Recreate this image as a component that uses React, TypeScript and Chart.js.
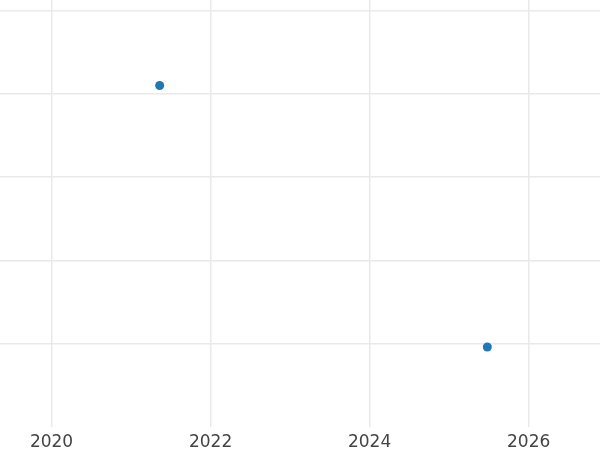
import React, { useEffect, useRef } from "react";
import { Chart, registerables } from "chart.js";

Chart.register(...registerables);

const xValues = [2021.36, 2025.48];
const yValues = [3.1, -0.04];
const xTicks = [2020, 2022, 2024, 2026];
const yTicks = [0, 1, 2, 3, 4];

export default function App() {
  const ref = useRef<HTMLCanvasElement | null>(null);
  useEffect(() => {
    if (!ref.current) return;
    const chart = new Chart(ref.current, {
      type: "scatter",
      data: {
        datasets: [
          {
            data: xValues.map((x, i) => ({ x, y: yValues[i] })),
            backgroundColor: "#1f77b4",
            borderColor: "#1f77b4",
            pointRadius: 4.5,
            pointBorderWidth: 0,
          },
        ],
      },
      options: {
        animation: false,
        responsive: true,
        maintainAspectRatio: false,
        layout: { padding: 0, autoPadding: false },
        plugins: { legend: { display: false }, tooltip: { enabled: false } },
        scales: {
          x: {
            type: "linear",
            min: 2019.352,
            max: 2026.897,
            afterBuildTicks: (s: any) => {
              s.ticks = xTicks.map((v) => ({ value: v }));
            },
            afterFit: (s: any) => {
              s.height = 23;
            },
            grid: { color: "#e9e9e9", lineWidth: 1.5, drawTicks: false },
            border: { display: false },
            ticks: {
              padding: 5,
              color: "#444444",
              font: { family: "DejaVu Sans", size: 17 },
              maxRotation: 0,
              callback: (v: any) => String(v),
            },
          },
          y: {
            type: "linear",
            min: -1.0,
            max: 4.126,
            afterBuildTicks: (s: any) => {
              s.ticks = yTicks.map((v) => ({ value: v }));
            },
            grid: { color: "#e9e9e9", lineWidth: 1.5, drawTicks: false },
            border: { display: false },
            ticks: { display: false, padding: 0 },
          },
        },
      },
    });
    return () => chart.destroy();
  }, []);
  return (
    <div style={{ position: "absolute", left: 0, top: 0, width: 600, height: 450, background: "#fff" }}>
      <canvas ref={ref} />
    </div>
  );
}
